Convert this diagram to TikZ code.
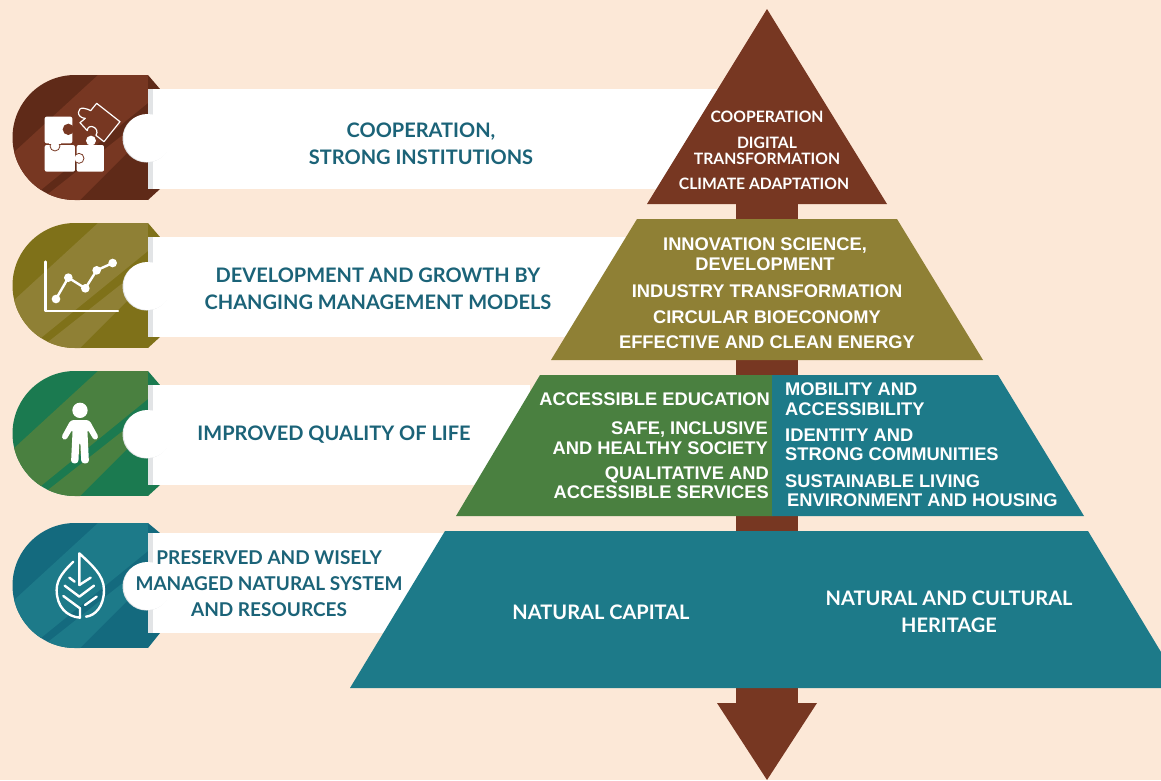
\documentclass[tikz,border=0pt]{standalone}
\usepackage{fontspec}
\setmainfont{Lato}
\newfontfamily\arialfont{Liberation Sans}
\usetikzlibrary{positioning}

\definecolor{paper}{HTML}{FCE8D7}
\definecolor{browndark}{HTML}{5F2A18}
\definecolor{brownlight}{HTML}{773722}
\definecolor{olivedark}{HTML}{7F7119}
\definecolor{olivelight}{HTML}{8F8035}
\definecolor{greendark}{HTML}{1B7A50}
\definecolor{greenlight}{HTML}{4A8040}
\definecolor{tealdark}{HTML}{146A7E}
\definecolor{teallight}{HTML}{1D7A89}
\definecolor{bandtextcol}{HTML}{1B6378}
\definecolor{foldgrey}{HTML}{E2E4E6}

\tikzset{
	bandtext/.style={text=bandtextcol,font=\bfseries\fontsize{20}{27}\selectfont,align=center,inner sep=0pt},
	bandsmall/.style={text=bandtextcol,font=\bfseries\fontsize{19}{26}\selectfont,align=center,inner sep=0pt},
	latotext/.style={text=white,font=\bfseries\fontsize{15.7}{16}\selectfont,align=center,inner sep=0pt},
	captext/.style={text=white,font=\bfseries\fontsize{20}{27}\selectfont,align=center,inner sep=0pt},
	tiertext/.style={text=white,font=\arialfont\bfseries\fontsize{18.3}{19.5}\selectfont,inner sep=0pt},
	iconline/.style={draw=white,line width=2.4pt,line cap=round,line join=round},
}

\begin{document}
\begin{tikzpicture}[x=1pt,y=-1pt]

\fill[paper] (0,0) rectangle (1161,780);
\useasboundingbox (0,0) rectangle (1161,780);

% icon plates with their white bands
\foreach \ytop/\bandtop/\bandend/\cdark/\clight in {% plate top/band top/band end/colours
	75/89/720/browndark/brownlight,
	223/237/630/olivedark/olivelight,
	371/385/530/greendark/greenlight,
	523/533/450/tealdark/teallight}
{
	\begin{scope}
		\clip (148,\ytop) -- (75,\ytop) arc[start angle=90,end angle=270,radius=62.5pt] -- (148,\ytop+125) -- cycle;
		\fill[\cdark] (0,\ytop) rectangle (148,\ytop+125);
		\fill[\clight] (98,\ytop) -- (0,\ytop+90) -- (20,\ytop+132) -- (148,\ytop+28) -- (148,\ytop) -- cycle;
		\fill[\clight] (148,\ytop+40) -- (53,\ytop+115) -- (40,\ytop+125) -- (80,\ytop+125) -- (148,\ytop+57) -- cycle;
	\end{scope}
	\fill[\cdark] (148,\ytop) -- (160,\bandtop) -- (148,\bandtop) -- cycle;
	\fill[\cdark] (148,\ytop+125) -- (160,\bandtop+100) -- (148,\bandtop+100) -- cycle;
	\fill[foldgrey] (148,\bandtop) rectangle (153,\bandtop+100);
	\fill[white] (153,\bandtop) rectangle (\bandend,\bandtop+100);
	\fill[foldgrey] (146.5,\ytop+63.5) circle (24);
	\fill[white] (147.5,\ytop+63) circle (24);
}

% arrow behind the pyramid
\fill[brownlight] (736,200) rectangle (798,704);
\fill[brownlight] (717,703) -- (817,703) -- (767,780) -- cycle;

% pyramid
\fill[brownlight] (767,9) -- (887,204) -- (647,204) -- cycle;
\fill[olivelight] (637,219) -- (897,219) -- (983,360) -- (551,360) -- cycle;
\fill[greenlight] (540,375) -- (773,375) -- (773,516) -- (456,516) -- cycle;
\fill[teallight] (772,375) -- (998,375) -- (1084,516) -- (772,516) -- cycle;
\fill[teallight] (445,531) -- (1088,531) -- (1161,652) -- (1161,688) -- (350,688) -- cycle;

% puzzle icon
\begin{scope}[shift={(30,90)},scale=0.3333]
	\fill[white,rounded corners=2pt] (140,165) rectangle (222,245);
	\fill[white] (183,152) circle (15);
	\fill[white,rounded corners=2pt] (44,165) rectangle (135,245);
	\filldraw[fill=white,draw=brownlight,line width=0.8pt] (147,205) circle (15);
	\fill[white] (125,188) rectangle (136,222);
	\fill[white,rounded corners=2pt] (44,80) rectangle (127,160);
	\filldraw[fill=white,draw=brownlight,line width=0.8pt] (75,168) circle (15);
	\fill[white] (58,150) rectangle (92,161);
	\fill[brownlight] (115,118) circle (17);
	\draw[iconline,line width=1.2pt] (200,40) -- (270,95) -- (222,155) -- (198,136) .. controls (212,112) and (172,98) .. (172,122) -- (150,98) -- (166,85) .. controls (138,84) and (140,50) .. (162,55) .. controls (172,56) and (178,60) .. (182,62) -- cycle;
\end{scope}

% chart icon
\begin{scope}[shift={(30,245)},scale=0.3333]
	\draw[iconline] (46,50) -- (46,198) -- (264,198);
	\draw[iconline] (78,162) -- (115,98) -- (166,130) -- (200,76) -- (248,54);
	\foreach \px/\py in {78/162, 115/98, 166/130, 200/76, 248/54}
		\fill[white] (\px,\py) circle (13);
\end{scope}

% person icon
\begin{scope}[shift={(30,395)},scale=0.3333]
	\fill[white] (150,46) circle (23);
	\fill[white,rounded corners=3pt] (122,75) -- (178,75) -- (207,128) -- (193,137) -- (172,102) -- (177,205) -- (154,205) -- (151,140) -- (148,140) -- (145,205) -- (123,205) -- (128,102) -- (107,137) -- (93,128) -- cycle;
\end{scope}

% leaf icon
\begin{scope}[shift={(30,545)},scale=0.3333]
	\draw[iconline] (148,120) -- (148,25) .. controls (185,60) and (222,90) .. (222,135) .. controls (222,185) and (195,212) .. (168,215);
	\draw[iconline] (130,50) .. controls (105,75) and (80,100) .. (80,135) .. controls (80,185) and (110,215) .. (150,218) -- (150,190) -- (100,153);
	\draw[iconline] (148,120) -- (182,98);
	\draw[iconline] (118,98) -- (134,110);
	\draw[iconline] (104,122) -- (148,155) -- (192,122);
	\draw[iconline] (165,180) -- (200,155);
\end{scope}

% band labels
\node[bandtext]  (band1) at (421,143.5) {COOPERATION,\\STRONG INSTITUTIONS};
\node[bandtext]  (band2) at (378,288.5) {DEVELOPMENT AND GROWTH BY\\CHANGING MANAGEMENT MODELS};
\node[bandtext]  (band3) at (334,434.5) {IMPROVED QUALITY OF LIFE};
\node[bandsmall] (band4) at (269,584) {PRESERVED AND WISELY\\MANAGED NATURAL SYSTEM\\AND RESOURCES};

% top of the pyramid
\node[latotext] (top1) at (767,117) {COOPERATION};
\node[latotext] (top2) at (767,151) {DIGITAL\\TRANSFORMATION};
\node[latotext] (top3) at (764,183.5) {CLIMATE ADAPTATION};

% second tier
\node[tiertext,align=center] (olive1) at (765,254) {INNOVATION SCIENCE,\\DEVELOPMENT};
\node[tiertext] (olive2) at (767,291.5) {INDUSTRY TRANSFORMATION};
\node[tiertext] (olive3) at (767,317.5) {CIRCULAR BIOECONOMY};
\node[tiertext] (olive4) at (767,342.5) {EFFECTIVE AND CLEAN ENERGY};

% third tier, left
\node[tiertext,anchor=east] (green1) at (770,399.5) {ACCESSIBLE EDUCATION};
\node[tiertext,anchor=east,align=right] (green2) at (768,438) {SAFE, INCLUSIVE\\AND HEALTHY SOCIETY};
\node[tiertext,anchor=east,align=right] (green3) at (769,482.5) {QUALITATIVE AND\\ACCESSIBLE SERVICES};

% third tier, right
\node[tiertext,anchor=west,align=left] (teal1) at (785,399) {MOBILITY AND\\ACCESSIBILITY};
\node[tiertext,anchor=west,align=left] (teal2) at (785,445) {IDENTITY AND\\STRONG COMMUNITIES};
\node[tiertext,anchor=west] (teal3) at (785,481.5) {SUSTAINABLE LIVING};
\node[tiertext,anchor=west] (teal4) at (787,500.5) {ENVIRONMENT AND HOUSING};

% base of the pyramid
\node[captext] (base1) at (601,612) {NATURAL CAPITAL};
\node[captext] (base2) at (949,611.5) {NATURAL AND CULTURAL\\HERITAGE};

\end{tikzpicture}
\end{document}
